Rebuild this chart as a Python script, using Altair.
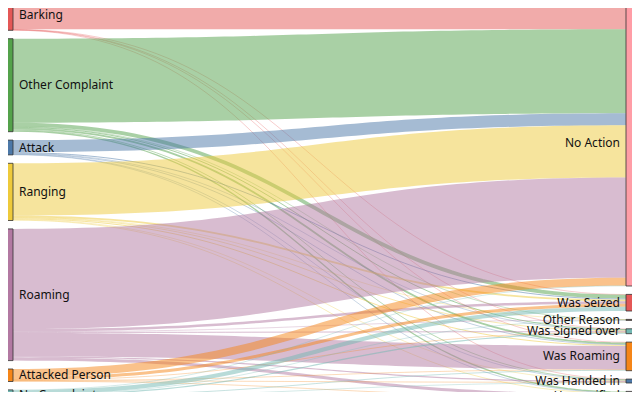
import altair as alt
import pandas as pd
import numpy as np

# ---- data -------------------------------------------------------------
sources = ["Barking", "Other Complaint", "Attack", "Ranging", "Roaming",
           "Attacked Person", "No Complaint"]
targets = ["No Action", "Was Seized", "Other Reason", "Was Signed over",
           "Was Roaming", "Was Handed in", "Unspecified"]

source_colors = ["#e45756", "#54a24b", "#4c78a8", "#eeca3b", "#b279a2",
                 "#f58518", "#72b7b2"]
target_colors = ["#ff9da6", "#e45756", "#9d755d", "#72b7b2", "#f58518",
                 "#4c78a8", "#bab0ac"]

# counts: one row per source, columns in the order of `targets`
flow_barking = [293, 3, 0, 2, 3, 2, 0]
flow_other_complaint = [840, 38, 3, 10, 18, 8, 13]
flow_attack = [120, 10, 0, 4, 7, 4, 3]
flow_ranging = [522, 18, 2, 8, 10, 5, 7]
flow_roaming = [1002, 25, 3, 10, 235, 12, 30]
flow_attacked_person = [80, 30, 0, 3, 5, 2, 5]
flow_no_complaint = [3, 42, 2, 12, 8, 6, 29]

flows = [flow_barking, flow_other_complaint, flow_attack, flow_ranging,
         flow_roaming, flow_attacked_person, flow_no_complaint]

# ---- sankey layout (d3-sankey style) -----------------------------------
ky = 0.1          # px per count
pad = 8.4         # node padding
left_x0, left_x1 = 1, 13
right_x0, right_x1 = 626, 638

F = np.array(flows, dtype=float)
src_tot = F.sum(axis=1) * ky
tgt_tot = F.sum(axis=0) * ky

def stack(tot):
    y, out = 0.0, []
    for h in tot:
        out.append((y, y + h))
        y += h + pad
    return out

src_pos = stack(src_tot)
tgt_pos = stack(tgt_tot)

nodes = []
for i, n in enumerate(sources):
    nodes.append(dict(name=n, x0=left_x0, x1=left_x1, y0=src_pos[i][0],
                      y1=src_pos[i][1], color=source_colors[i], side="L",
                      lx=left_x1 + 6, ly=(src_pos[i][0] + src_pos[i][1]) / 2))
for j, n in enumerate(targets):
    nodes.append(dict(name=n, x0=right_x0, x1=right_x1, y0=tgt_pos[j][0],
                      y1=tgt_pos[j][1], color=target_colors[j], side="R",
                      lx=right_x0 - 6, ly=(tgt_pos[j][0] + tgt_pos[j][1]) / 2))
nodes_df = pd.DataFrame(nodes)

# outgoing links sorted by target order, incoming links by source order
src_off = [p[0] for p in src_pos]
tgt_off = [p[0] for p in tgt_pos]
ts = np.linspace(0, 1, 60)
rows = []
lid = 0
for i in range(len(sources)):
    for j in range(len(targets)):
        v = F[i, j]
        if v <= 0:
            continue
        w = v * ky
        ya = src_off[i] + w / 2
        src_off[i] += w
        yb = tgt_off[j] + w / 2
        tgt_off[j] += w
        xa, xb = left_x1, right_x0
        xm = (xa + xb) / 2
        for k, t in enumerate(ts):
            u = 1 - t
            x = u**3 * xa + 3 * u * u * t * xm + 3 * u * t * t * xm + t**3 * xb
            y = u**3 * ya + 3 * u * u * t * ya + 3 * u * t * t * yb + t**3 * yb
            rows.append(dict(link=lid, k=k, x=x, y=y, w=max(w, 0.6),
                             color=source_colors[i],
                             source=sources[i], target=targets[j], value=v))
        lid += 1
links_df = pd.DataFrame(rows)

W, H = 624, 384
xs = alt.Scale(domain=[8, 8 + W])
ys = alt.Scale(domain=[8, 8 + H], reverse=True)

links = alt.Chart(links_df).mark_line(strokeOpacity=0.5, clip=True).encode(
    x=alt.X("x:Q", scale=xs, axis=None),
    y=alt.Y("y:Q", scale=ys, axis=None),
    detail="link:N",
    order=alt.Order("k:Q"),
    color=alt.Color("color:N", scale=None),
    size=alt.Size("w:Q", scale=None),
)

node_rects = alt.Chart(nodes_df).mark_rect(
    stroke="#333", strokeWidth=1, strokeOpacity=0.8, clip=True
).encode(
    x=alt.X("x0:Q", scale=xs, axis=None), x2="x1:Q",
    y=alt.Y("y0:Q", scale=ys, axis=None), y2="y1:Q",
    fill=alt.Color("color:N", scale=None),
)

left_labels = alt.Chart(nodes_df[nodes_df.side == "L"]).mark_text(
    align="left", baseline="middle", font="Noto Sans", fontSize=12,
    color="#111", clip=True
).encode(
    x=alt.X("lx:Q", scale=xs, axis=None),
    y=alt.Y("ly:Q", scale=ys, axis=None),
    text="name:N",
)
right_labels = alt.Chart(nodes_df[nodes_df.side == "R"]).mark_text(
    align="right", baseline="middle", font="Noto Sans", fontSize=12,
    color="#111", clip=True
).encode(
    x=alt.X("lx:Q", scale=xs, axis=None),
    y=alt.Y("ly:Q", scale=ys, axis=None),
    text="name:N",
)

chart = alt.layer(links, node_rects, left_labels, right_labels).properties(
    width=W, height=H, padding=0, autosize=alt.AutoSizeParams(type="none"),
    background="white",
).configure_view(stroke=None)

chart.save("out.html", embed_options={"renderer": "svg", "actions": False})
